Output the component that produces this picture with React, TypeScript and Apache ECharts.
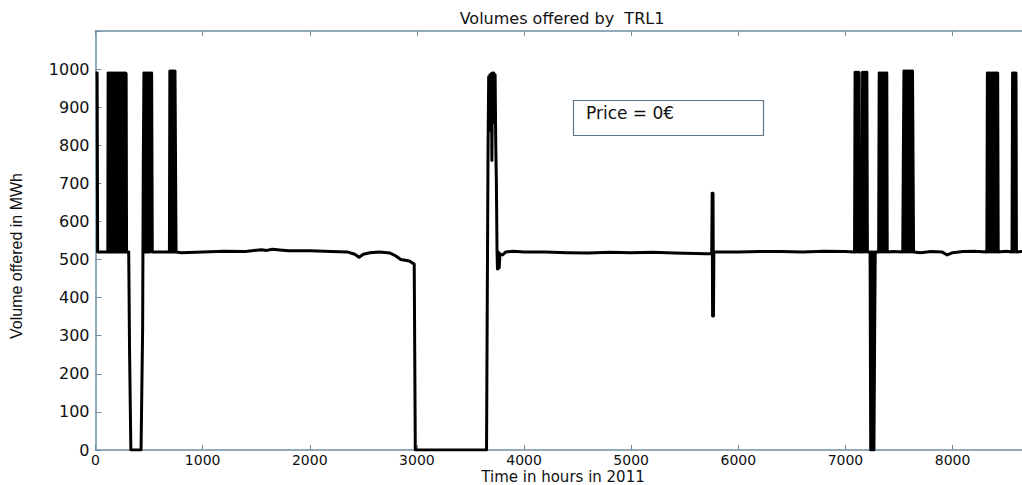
import React, { useEffect, useRef } from "react";
import * as echarts from "echarts";

// x tick labels (hours) and y tick labels (MWh)
const xTicks = [0, 1000, 2000, 3000, 4000, 5000, 6000, 7000, 8000];
const yTicks = [0, 100, 200, 300, 400, 500, 600, 700, 800, 900, 1000];

// January - February: on/off bidding with a short outage
const hoursA = [0, 15, 20, 115, 118, 126, 134, 142, 150, 158, 166, 174, 182, 190, 198, 206, 214, 222, 230, 238, 246, 254, 262, 270, 278, 286, 290, 310, 318, 330, 425, 432, 440, 446, 452, 460, 468, 476, 484, 492, 500, 508, 516, 524, 530, 690, 694, 700, 706, 712, 718, 724, 730, 736, 742, 748, 752];
const volA = [990, 990, 520, 520, 990, 520, 990, 520, 990, 520, 990, 520, 990, 520, 990, 520, 990, 520, 990, 520, 990, 520, 990, 520, 990, 988, 520, 520, 260, 0, 0, 150, 320, 750, 990, 520, 990, 520, 990, 520, 990, 520, 990, 990, 520, 520, 995, 520, 995, 520, 995, 520, 995, 520, 995, 995, 520];

// Spring: flat offer, then outage
const hoursB = [800, 1000, 1200, 1400, 1550, 1600, 1650, 1720, 1800, 2000, 2200, 2350, 2420, 2460, 2500, 2560, 2650, 2750, 2800, 2850, 2930, 2975, 2985, 3650];
const volB = [518, 520, 522, 521, 526, 524, 527, 525, 523, 523, 521, 520, 514, 506, 514, 518, 520, 517, 510, 500, 496, 488, 0, 0];

// Restart burst and summer
const hoursC = [3656, 3664, 3670, 3676, 3682, 3688, 3694, 3700, 3706, 3712, 3718, 3724, 3730, 3736, 3742, 3748, 3752, 3760, 3768, 3775, 3800, 3830, 3900, 4000, 4200, 4400, 4600, 4800, 5000, 5200, 5400, 5600, 5700, 5752, 5756, 5760, 5764, 5768, 5772, 5800, 6000, 6200, 6400, 6600, 6800, 7000];
const volC = [350, 790, 980, 840, 985, 850, 988, 760, 990, 860, 990, 880, 985, 800, 700, 520, 475, 520, 478, 515, 512, 520, 522, 520, 520, 518, 517, 519, 518, 519, 517, 516, 515, 516, 674, 352, 674, 352, 520, 520, 520, 521, 521, 520, 522, 521];

// Autumn - winter: on/off bidding and a short outage
const hoursD = [7085, 7090, 7098, 7106, 7114, 7122, 7128, 7132, 7155, 7160, 7168, 7176, 7184, 7192, 7200, 7205, 7230, 7236, 7244, 7252, 7260, 7266, 7272, 7278, 7310, 7315, 7323, 7331, 7339, 7347, 7355, 7363, 7371, 7379, 7386, 7390, 7450, 7535, 7540, 7546, 7554, 7562, 7570, 7578, 7586, 7594, 7602, 7610, 7618, 7626, 7632, 7636, 7700, 7800, 7900, 7950, 8000, 8100, 8200, 8320, 8325, 8333, 8341, 8349, 8357, 8365, 8373, 8381, 8389, 8397, 8405, 8413, 8421, 8426, 8500, 8555, 8560, 8568, 8576, 8584, 8592, 8596, 8640, 8700, 8760];
const volD = [520, 992, 520, 992, 520, 992, 990, 520, 520, 992, 520, 992, 520, 992, 992, 520, 520, 0, 520, 0, 520, 0, 280, 520, 520, 990, 520, 990, 520, 990, 520, 990, 520, 990, 990, 520, 521, 520, 750, 995, 520, 995, 520, 995, 520, 995, 520, 995, 520, 995, 995, 520, 518, 521, 520, 512, 518, 521, 522, 520, 990, 520, 990, 520, 990, 520, 990, 520, 990, 520, 990, 520, 990, 520, 522, 520, 990, 520, 990, 520, 990, 520, 521, 520, 520];

const hours = [...hoursA, ...hoursB, ...hoursC, ...hoursD];
const volumes = [...volA, ...volB, ...volC, ...volD];

export default function App() {
  const ref = useRef<HTMLDivElement>(null);
  useEffect(() => {
    if (!ref.current) return;
    const chart = echarts.init(ref.current, null, { renderer: "svg" });
    const axisColor = "#6f8fa2";
    const labelFont = "DejaVu Sans";
    chart.setOption({
      animation: false,
      backgroundColor: "#ffffff",
      title: {
        text: "Volumes offered by  TRL1",
        left: 557,
        top: 5,
        textAlign: "center",
        textStyle: { fontFamily: labelFont, fontSize: 16, fontWeight: "normal", color: "#111" },
      },
      grid: { left: 95.5, right: -12, top: 31, bottom: 35, containLabel: false, outerBoundsMode: "none" },
      xAxis: [
        {
          type: "value",
          position: "bottom",
          min: 0,
          max: 8760,
          interval: 1000,
          axisLine: { show: true, lineStyle: { color: axisColor, width: 1.5 } },
          axisTick: { show: true, inside: true, length: 5, lineStyle: { color: axisColor } },
          axisLabel: {
            fontFamily: labelFont,
            fontSize: 14,
            lineHeight: 14,
            color: "#111",
            margin: 3,
            formatter: (v: number) => (xTicks.includes(v) ? String(v) : ""),
          },
          splitLine: { show: false },
        },
        {
          type: "value",
          position: "top",
          min: 0,
          max: 8760,
          interval: 1000,
          axisLine: { show: true, lineStyle: { color: axisColor, width: 1.5 } },
          axisTick: { show: true, inside: true, length: 5, lineStyle: { color: axisColor } },
          axisLabel: { show: false },
          splitLine: { show: false },
        },
      ],
      yAxis: {
        type: "value",
        min: 0,
        max: 1100,
        interval: 100,
        axisLine: { show: true, lineStyle: { color: axisColor, width: 1.5 } },
        axisTick: { show: true, inside: true, length: 6, lineStyle: { color: axisColor } },
        axisLabel: {
          fontFamily: labelFont,
          fontSize: 16,
          color: "#111",
          margin: 6,
          formatter: (v: number) => (yTicks.includes(v) ? String(v) : ""),
        },
        splitLine: { show: false },
      },
      graphic: [
        {
          type: "text",
          x: 16,
          y: 256,
          rotation: Math.PI / 2,
          style: {
            text: "Volume offered in MWh",
            font: "16px 'Liberation Sans'",
            fill: "#111",
            textAlign: "center",
            textVerticalAlign: "middle",
          },
        },
        {
          type: "text",
          x: 563,
          y: 477,
          style: {
            text: "Time in hours in 2011",
            font: "15px 'DejaVu Sans'",
            lineHeight: 15,
            fill: "#111",
            textAlign: "center",
            textVerticalAlign: "middle",
          },
        },
        {
          type: "rect",
          shape: { x: 573.5, y: 100.5, width: 190, height: 35 },
          style: { fill: "#ffffff", stroke: "#5d7586", lineWidth: 1.2 },
          z: 10,
        },
        {
          type: "text",
          x: 586,
          y: 113,
          style: {
            text: "Price = 0€",
            font: "17px 'DejaVu Sans'",
            fill: "#111",
            textVerticalAlign: "middle",
          },
          z: 11,
        },
      ],
      series: [
        {
          type: "line",
          xAxisIndex: 0,
          data: hours.map((h, i) => [h, volumes[i]]),
          showSymbol: false,
          lineStyle: { color: "#000", width: 3, join: "round" },
          clip: true,
        },
      ],
    });
    return () => chart.dispose();
  }, []);
  return (
    <div
      ref={ref}
      style={{ position: "fixed", left: 0, top: 0, width: 1022, height: 485, background: "#fff" }}
    />
  );
}
